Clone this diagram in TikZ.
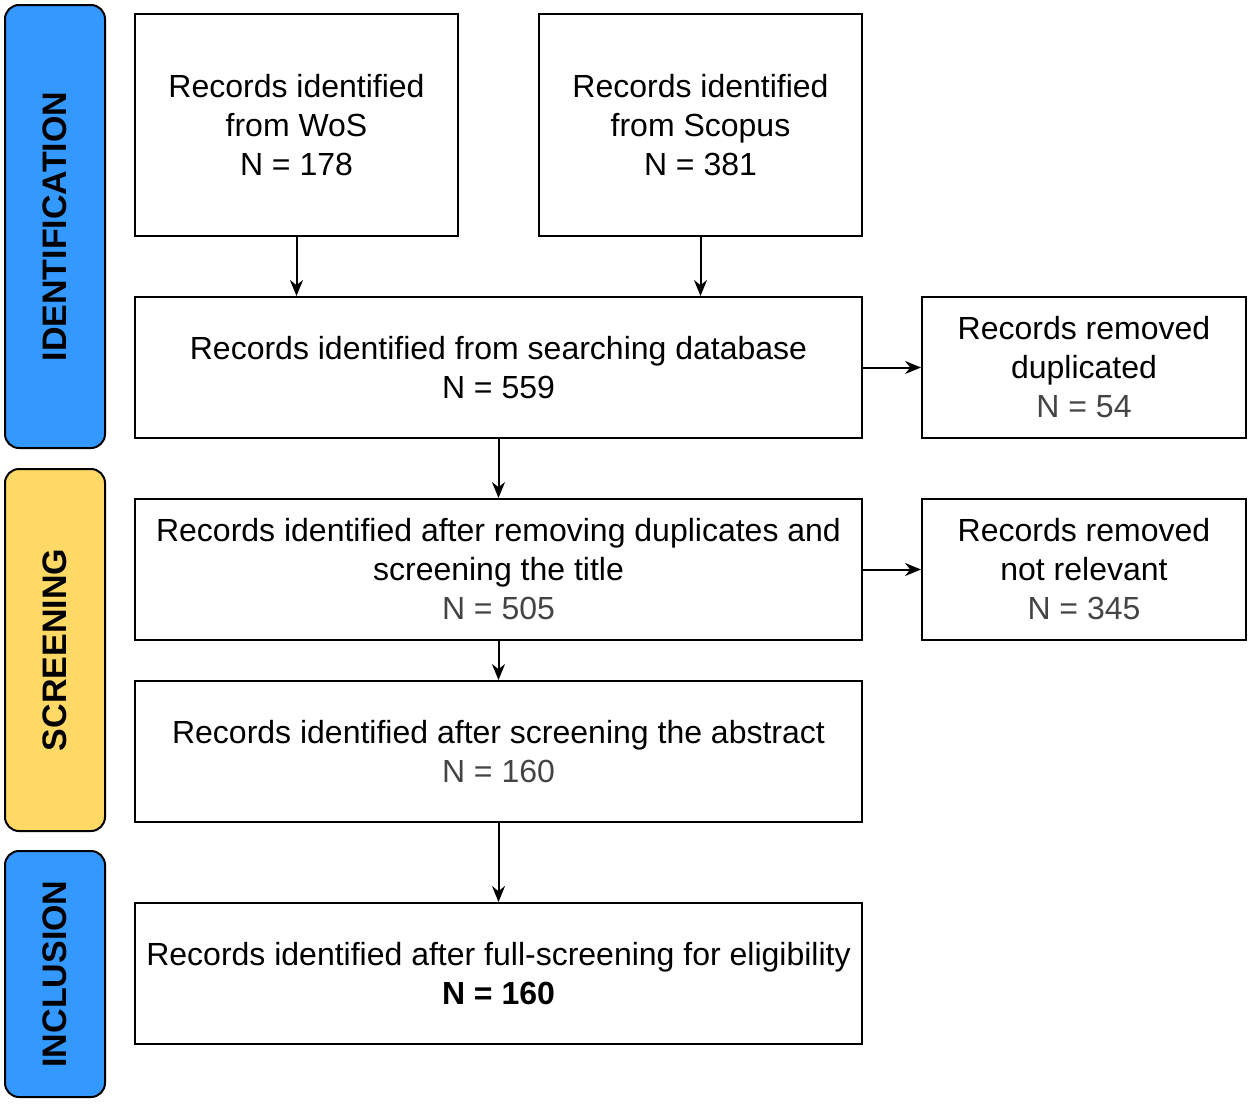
\documentclass[tikz,border=0pt]{standalone}
\usetikzlibrary{arrows.meta}
\usepackage{fontspec}
\setmainfont{Liberation Sans}
\definecolor{sblue}{HTML}{3399FF}
\definecolor{syel}{HTML}{FFD966}
\definecolor{ngray}{HTML}{444444}
\begin{document}
\begin{tikzpicture}[x=1pt,y=-1pt,
 box/.style={draw,line width=2pt,align=center,inner sep=0pt,font=\fontsize{32}{39}\selectfont},
 side/.style={draw,line width=2pt,rounded corners=14pt,inner sep=0pt,rotate=90,font=\fontsize{34}{40}\selectfont\bfseries},
 arr/.style={-{Stealth[length=16pt,width=13pt]},line width=2pt}]
\useasboundingbox (0,0) rectangle (1250,1103);
\node[side,fill=sblue,minimum width=443,minimum height=100] (s1) at (55,226.5) {IDENTIFICATION};
\node[side,fill=syel,minimum width=362,minimum height=100] (s2) at (55,650) {SCREENING};
\node[side,fill=sblue,minimum width=246,minimum height=100] (s3) at (55,974) {INCLUSION};
\node[box,minimum width=323,minimum height=222] (wos) at (296.5,125) {Records identified\\from WoS\\N = 178};
\node[box,minimum width=323,minimum height=222] (sco) at (700.5,125) {Records identified\\from Scopus\\N = 381};
\node[box,minimum width=727,minimum height=141] (db) at (498.5,367.5) {Records identified from searching database\\N = 559};
\node[box,minimum width=324,minimum height=141] (dup) at (1084,367.5) {Records removed\\duplicated\\\textcolor{ngray}{N = 54}};
\node[box,minimum width=727,minimum height=141] (ti) at (498.5,569.5) {Records identified after removing duplicates and\\screening the title\\\textcolor{ngray}{N = 505}};
\node[box,minimum width=324,minimum height=141] (nr) at (1084,569.5) {Records removed\\not relevant\\\textcolor{ngray}{N = 345}};
\node[box,minimum width=727,minimum height=141] (ab) at (498.5,751.5) {Records identified after screening the abstract\\\textcolor{ngray}{N = 160}};
\node[box,minimum width=727,minimum height=141] (fin) at (498.5,973.5) {Records identified after full-screening for eligibility\\\textbf{N = 160}};
\draw[arr] (wos.south) -- (wos.south |- db.north);
\draw[arr] (sco.south) -- (sco.south |- db.north);
\draw[arr] (db) -- (dup);
\draw[arr] (db) -- (ti);
\draw[arr] (ti) -- (nr);
\draw[arr] (ti) -- (ab);
\draw[arr] (ab) -- (fin);
\end{tikzpicture}
\end{document}
